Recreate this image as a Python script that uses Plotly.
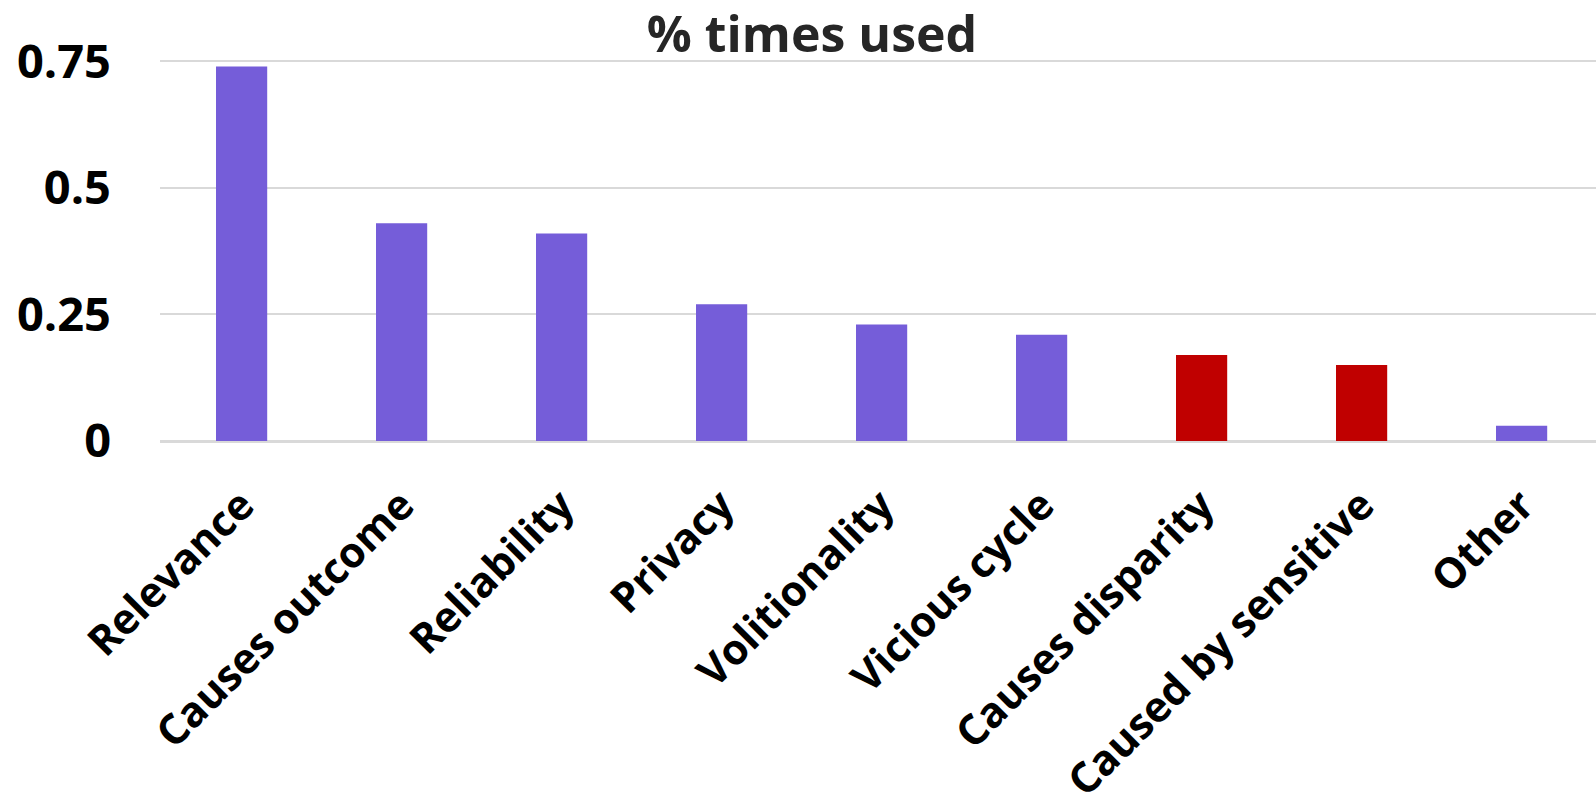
import plotly.graph_objects as go

# Share of times each reason was used
categories = ["Relevance", "Causes outcome", "Reliability", "Privacy", "Volitionality",
              "Vicious cycle", "Causes disparity", "Caused by sensitive", "Other"]
values = [0.74, 0.43, 0.41, 0.27, 0.23, 0.21, 0.17, 0.15, 0.03]
bar_colors = ["#755DD9", "#755DD9", "#755DD9", "#755DD9", "#755DD9",
              "#755DD9", "#C00000", "#C00000", "#755DD9"]
y_ticks = [0, 0.25, 0.5, 0.75]
y_tick_text = ["0", "0.25", "0.5", "0.75"]

W, H = 1596, 812
FONT = "Open Sans"

fig = go.Figure(
    go.Bar(
        x=categories,
        y=values,
        marker=dict(color=bar_colors, line=dict(width=0)),
        width=0.32,
    )
)

fig.update_layout(
    width=W,
    height=H,
    margin=dict(l=160, r=0, t=36, b=371),
    paper_bgcolor="white",
    plot_bgcolor="white",
    showlegend=False,
    bargap=0.68,
    title=dict(
        text="<b>% times used</b>",
        font=dict(family=FONT, size=50, color="#262626"),
        x=812 / W,
        xanchor="center",
        xref="container",
        y=1 - 34 / H,
        yanchor="middle",
        yref="container",
    ),
    font=dict(family=FONT, color="black"),
)

fig.update_xaxes(
    range=[-0.51, 8.465],
    tickangle=-45,
    tickfont=dict(family=FONT, size=42, color="black", weight="bold"),
    ticks="",
    ticklabelstandoff=30,
    showgrid=False,
    showline=False,
    zeroline=False,
    automargin=False,
)

fig.update_yaxes(
    range=[0, 0.8],
    tickvals=y_ticks,
    ticktext=y_tick_text,
    tickfont=dict(family=FONT, size=47, color="black", weight="bold"),
    ticks="",
    ticklabelstandoff=48,
    showgrid=True,
    gridcolor="#D9D9D9",
    gridwidth=2,
    zeroline=True,
    zerolinecolor="#D9D9D9",
    zerolinewidth=3,
    showline=False,
    automargin=False,
)

fig.write_html("out.html")
